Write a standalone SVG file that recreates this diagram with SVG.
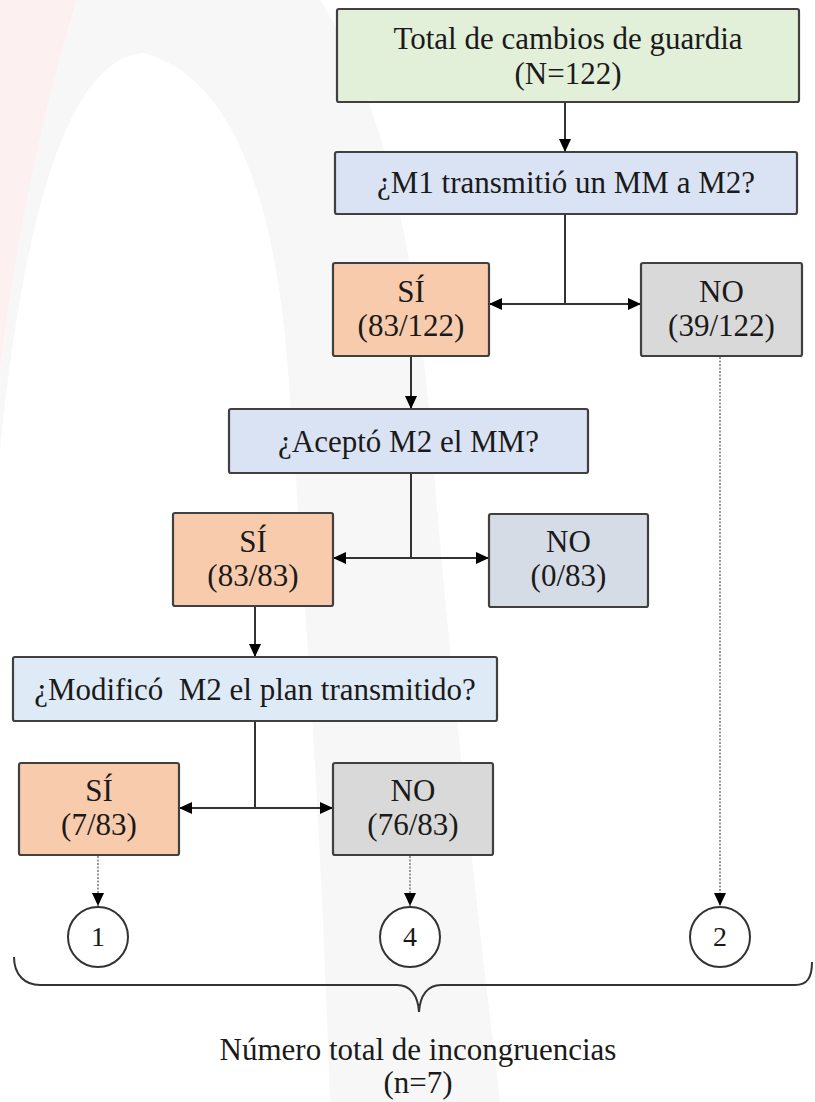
<svg xmlns="http://www.w3.org/2000/svg" width="815" height="1102" viewBox="0 0 815 1102">
<defs>
<marker id="ah" viewBox="0 0 13 12" refX="13" refY="6" markerWidth="13" markerHeight="12" markerUnits="userSpaceOnUse" orient="auto-start-reverse">
<path d="M0,0 L13,6 L0,12 Z" fill="#000"/>
</marker>
</defs>
<style>
.box{stroke:#404040;stroke-width:2.2}
.green{fill:#e2efd9}
.blue{fill:#dae3f3}
.lblue{fill:#deebf7}
.orange{fill:#f8cbad}
.grey{fill:#d9d9d9}
.bgrey{fill:#d6dce5}
.line{stroke:#333;stroke-width:2;fill:none}
.dot{stroke:#808080;stroke-width:1.6;stroke-dasharray:2 1.5;fill:none}
.circ{fill:#fff;stroke:#333;stroke-width:2}
</style>
<rect width="815" height="1102" fill="#fff"/>
<g id="watermark">
<path d="M0,0 L77,0 C40,120 15,250 0,370 Z" fill="#fcf0f0"/>
<path d="M77,0 L320,0 C370,80 410,200 430,420 C445,620 470,850 500,1102 L330,1102 C320,800 305,600 290,400 C282,250 250,80 143,53 C60,60 20,250 0,450 L0,370 C15,250 40,120 77,0 Z" fill="#f7f7f7"/>
</g>
<g id="connectors">
<line class="line" x1="565" y1="102" x2="565" y2="152" marker-end="url(#ah)"/>
<line class="line" x1="565" y1="214" x2="565" y2="304"/>
<line class="line" x1="489" y1="304" x2="641" y2="304" marker-start="url(#ah)" marker-end="url(#ah)"/>
<line class="line" x1="411" y1="356" x2="411" y2="409" marker-end="url(#ah)"/>
<line class="line" x1="411" y1="473" x2="411" y2="558"/>
<line class="line" x1="333" y1="558" x2="489" y2="558" marker-start="url(#ah)" marker-end="url(#ah)"/>
<line class="line" x1="255" y1="606" x2="255" y2="657" marker-end="url(#ah)"/>
<line class="line" x1="255" y1="721" x2="255" y2="808"/>
<line class="line" x1="179" y1="808" x2="333" y2="808" marker-start="url(#ah)" marker-end="url(#ah)"/>
<line class="dot" x1="98" y1="856" x2="98" y2="906" marker-end="url(#ah)"/>
<line class="dot" x1="410" y1="856" x2="410" y2="906" marker-end="url(#ah)"/>
<line class="dot" x1="720" y1="357" x2="720" y2="906" marker-end="url(#ah)"/>
</g>
<g font-family="Liberation Serif, Times New Roman, DejaVu Serif, serif" font-size="31" fill="#1a1a1a" text-anchor="middle">
<g id="total">
<rect class="box green" x="337" y="9" width="462" height="93" rx="2"/>
<text x="568" y="49">Total de cambios de guardia</text>
<text x="568" y="84">(N=122)</text>
</g>
<g id="q1">
<rect class="box blue" x="335" y="152" width="462" height="62" rx="2"/>
<text x="566" y="193">¿M1 transmitió un MM a M2?</text>
</g>
<g id="si1">
<rect class="box orange" x="333" y="263" width="156" height="93" rx="2"/>
<text x="411" y="302">SÍ</text>
<text x="411" y="336">(83/122)</text>
</g>
<g id="no1">
<rect class="box grey" x="641" y="263" width="161" height="93" rx="2"/>
<text x="721.5" y="302">NO</text>
<text x="721.5" y="336">(39/122)</text>
</g>
<g id="q2">
<rect class="box blue" x="229" y="409" width="359" height="64" rx="2"/>
<text x="408.5" y="452">¿Aceptó M2 el MM?</text>
</g>
<g id="si2">
<rect class="box orange" x="173" y="513" width="160" height="93" rx="2"/>
<text x="253" y="552">SÍ</text>
<text x="253" y="586">(83/83)</text>
</g>
<g id="no2">
<rect class="box bgrey" x="489" y="514" width="159" height="93" rx="2"/>
<text x="568.5" y="552">NO</text>
<text x="568.5" y="586">(0/83)</text>
</g>
<g id="q3">
<rect class="box lblue" x="13" y="657" width="484" height="64" rx="2"/>
<text x="255" y="700" xml:space="preserve">¿Modificó  M2 el plan transmitido?</text>
</g>
<g id="si3">
<rect class="box orange" x="19" y="763" width="160" height="92" rx="2"/>
<text x="99" y="801">SÍ</text>
<text x="99" y="835">(7/83)</text>
</g>
<g id="no3">
<rect class="box grey" x="333" y="763" width="160" height="92" rx="2"/>
<text x="413" y="801">NO</text>
<text x="413" y="835">(76/83)</text>
</g>
<g id="c1">
<circle class="circ" cx="98" cy="937" r="30"/>
<text x="98" y="946" font-size="28">1</text>
</g>
<g id="c4">
<circle class="circ" cx="410" cy="937" r="30"/>
<text x="410" y="946" font-size="28">4</text>
</g>
<g id="c2">
<circle class="circ" cx="720" cy="937" r="30"/>
<text x="720" y="946" font-size="28">2</text>
</g>
<g id="brace">
<path class="line" stroke="#555" d="M14,957 C14,975 25,985 40,985 L397,985 C410,985 418,995 419,1012 C420,995 428,985 441,985 L795,985 C807,985 812,978 812,962"/>
</g>
<g id="total-incong">
<text x="418" y="1060">Número total de incongruencias</text>
<text x="418" y="1093">(n=7)</text>
</g>
</g>
</svg>
